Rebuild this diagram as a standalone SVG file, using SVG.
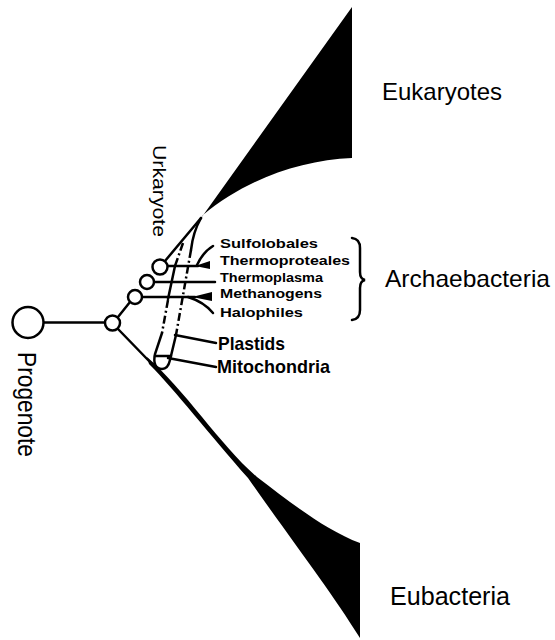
<svg xmlns="http://www.w3.org/2000/svg" width="555" height="640" viewBox="0 0 555 640">
<style>
.ln{fill:none;stroke:#000;stroke-width:2.5;stroke-linecap:round}
.dd{fill:none;stroke:#000;stroke-width:2.5;stroke-dasharray:8,3,2,3}
.nd{fill:#fff;stroke:#000;stroke-width:2.5}
.big{font-family:"Liberation Sans",Arial,sans-serif;font-size:24px;fill:#000}
.sm{font-family:"Liberation Sans",Arial,sans-serif;font-size:13.5px;font-weight:bold;fill:#000}
.md{font-family:"Liberation Sans",Arial,sans-serif;font-size:19px;font-weight:bold;fill:#000}
</style>
<rect width="555" height="640" fill="#fff"/>
<g id="connectors">
  <line class="ln" x1="43" y1="322.5" x2="105" y2="322.5"/>
  <line class="ln" x1="118" y1="317" x2="130" y2="302"/>
  <line class="ln" x1="118" y1="329" x2="150" y2="362"/>
  <line class="ln" x1="201" y1="218" x2="165" y2="261"/>
  <path class="ln" d="M201,218 Q193,232 191,250"/>
  <path class="dd" d="M191,250 L176,335"/>
  <path class="ln" d="M176,335 L170,360 Q168,369 162,369 Q152,368 155,354 L162,333"/>
  <path class="dd" d="M183,243 L175,266"/>
  <path class="ln" d="M175,266 L168,299"/>
  <path class="dd" d="M168,300 L162,333"/>
  <line class="ln" x1="155" y1="356" x2="171" y2="356"/>
  <line class="ln" x1="167" y1="266" x2="198" y2="266"/>
  <polygon points="195,266 210,261 210,269" fill="#000"/>
  <path class="ln" d="M213,246 Q203,252 197,265"/>
  <line class="ln" x1="154" y1="282" x2="215" y2="282"/>
  <line class="ln" x1="142" y1="297" x2="195" y2="297"/>
  <polygon points="192,297 212,292 212,301" fill="#000"/>
  <path class="ln" d="M188,297 Q204,302 213,313"/>
  <line class="ln" x1="175" y1="335" x2="216" y2="343"/>
  <line class="ln" x1="168" y1="358" x2="216" y2="367"/>
  <path class="ln" d="M352,238 Q360,239 360,248 L360,272 Q360,279 365,280 Q360,281 360,288 L360,310 Q360,319 352,320"/>
</g>
<g id="eukaryotes">
  <path d="M352,7 L352,158 C300,160 245,180 203,215 L199,221 Z" fill="#000"/>
  <text class="big" x="382" y="100" textLength="120" lengthAdjust="spacingAndGlyphs">Eukaryotes</text>
</g>
<g id="eubacteria">
  <path d="M147,357 C185,390 220,445 257,477 C290,502 325,530 360,543 L360,638 C330,590 295,545 248,478 C210,435 175,390 149,364 Z" fill="#000"/>
  <text class="big" x="390" y="605" textLength="120" lengthAdjust="spacingAndGlyphs" style="font-size:25px">Eubacteria</text>
</g>
<g id="progenote">
  <circle class="nd" cx="28" cy="322.5" r="15.5"/>
  <text class="big" transform="translate(18,352) rotate(90)" style="font-size:26px" textLength="105" lengthAdjust="spacingAndGlyphs">Progenote</text>
</g>
<g id="node1"><circle class="nd" cx="112.5" cy="323" r="7.5"/></g>
<g id="node2"><circle class="nd" cx="135" cy="297" r="7"/></g>
<g id="node3"><circle class="nd" cx="147" cy="282" r="7"/></g>
<g id="node4"><circle class="nd" cx="160" cy="267" r="7.5"/></g>
<g id="urkaryote">
  <text class="big" transform="translate(153,145) rotate(90)" style="font-size:17.5px" textLength="92" lengthAdjust="spacingAndGlyphs">Urkaryote</text>
</g>
<g id="archaebacteria">
  <text class="sm" x="220" y="248" textLength="98" lengthAdjust="spacingAndGlyphs">Sulfolobales</text>
  <text class="sm" x="220" y="265" textLength="130" lengthAdjust="spacingAndGlyphs">Thermoproteales</text>
  <text class="sm" x="220" y="282" textLength="103" lengthAdjust="spacingAndGlyphs">Thermoplasma</text>
  <text class="sm" x="220" y="298" textLength="102" lengthAdjust="spacingAndGlyphs">Methanogens</text>
  <text class="sm" x="220" y="317" textLength="83" lengthAdjust="spacingAndGlyphs">Halophiles</text>
  <text class="big" x="385" y="287" textLength="165" lengthAdjust="spacingAndGlyphs">Archaebacteria</text>
</g>
<g id="organelles">
  <text class="md" x="218" y="350" textLength="67" lengthAdjust="spacingAndGlyphs">Plastids</text>
  <text class="md" x="217" y="373" textLength="113" lengthAdjust="spacingAndGlyphs">Mitochondria</text>
</g>
</svg>
